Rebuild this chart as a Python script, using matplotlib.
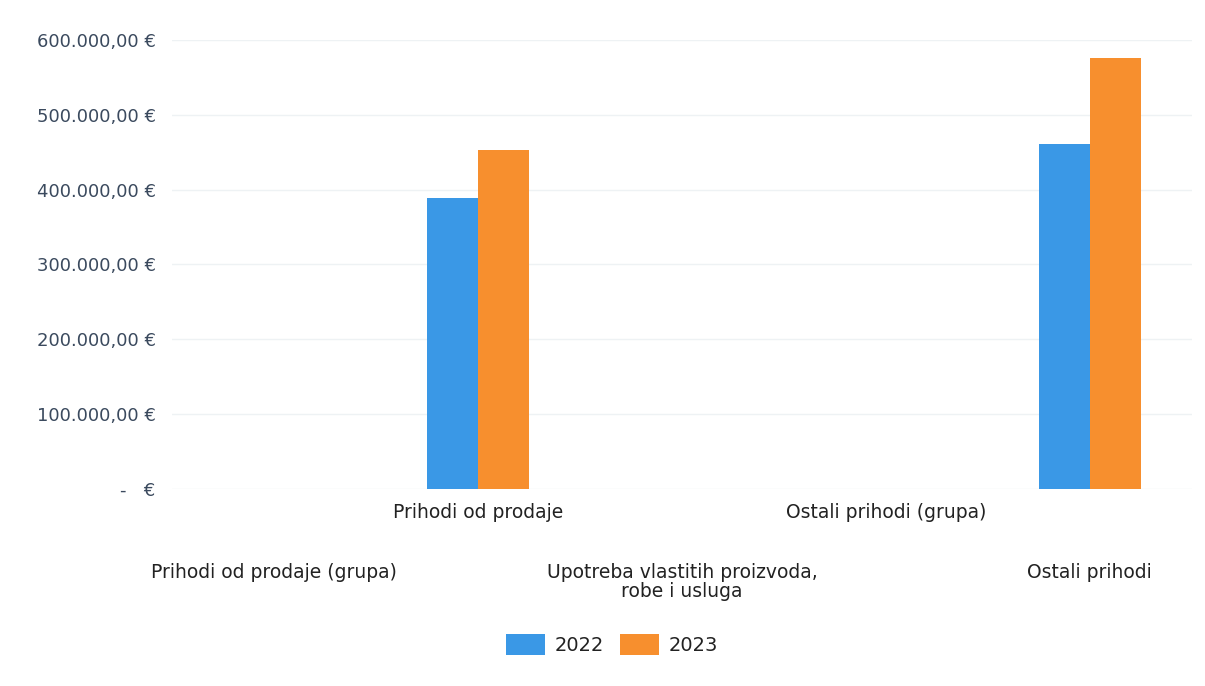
import numpy as np
import matplotlib.pyplot as plt
from matplotlib.ticker import FuncFormatter

# Categories and values
categories = ['Prihodi od prodaje (grupa)', 'Prihodi od prodaje',
              'Upotreba vlastitih proizvoda,\nrobe i usluga',
              'Ostali prihodi (grupa)', 'Ostali prihodi']
years = ['2022', '2023']
v2022 = [0, 389000, 0, 0, 461000]
v2023 = [0, 453000, 0, 0, 576000]
colors = ['#3a98e6', '#f78f2e']
text_col = '#3b4a5e'

fig = plt.figure(figsize=(12.05, 6.86), dpi=100)
ax = fig.add_axes([0.143, 0.287, 0.846, 0.655])

x = np.arange(len(categories))
w = 0.25
ax.bar(x - w/2, v2022, w, color=colors[0], label=years[0])
ax.bar(x + w/2, v2023, w, color=colors[1], label=years[1])

ax.set_xlim(-0.5, len(categories) - 0.5)
ax.set_ylim(0, 600000)
ax.set_yticks(np.arange(0, 600001, 100000))


def eur(v, pos):
    if v == 0:
        return '-   €'
    s = f'{v:,.2f}'.replace(',', ' ').replace('.', ',').replace(' ', '.')
    return s + ' €'


ax.yaxis.set_major_formatter(FuncFormatter(eur))
ax.tick_params(axis='y', length=0, pad=12, labelsize=13, labelcolor=text_col)
ax.grid(axis='y', color='#eef2f4', linewidth=1)
ax.set_axisbelow(True)
for s in ax.spines.values():
    s.set_visible(False)

# staggered category labels
ax.set_xticks(x)
ax.set_xticklabels([])
ax.tick_params(axis='x', length=0)
for i, c in enumerate(categories):
    yoff = -10 if i % 2 == 1 else -53
    ax.annotate(c, (x[i], 0), xycoords=('data', 'data'), xytext=(0, yoff),
                textcoords='offset points', ha='center', va='top',
                fontsize=13.5, color='#222222', linespacing=1.05)

fig.legend(loc='center', bbox_to_anchor=(0.508, 0.06), ncol=2, frameon=False,
           fontsize=14, handlelength=2.0, handleheight=1.3, handletextpad=0.5,
           columnspacing=0.8, labelcolor='#222222')

plt.savefig('out.png', dpi=100)
